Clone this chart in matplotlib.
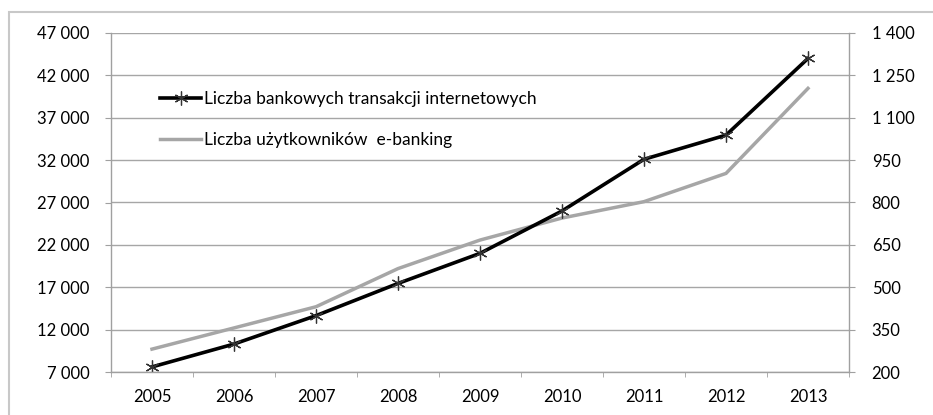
import matplotlib.pyplot as plt
from matplotlib.ticker import FixedLocator, FuncFormatter
from matplotlib.patches import Rectangle

years = ['2005', '2006', '2007', '2008', '2009', '2010', '2011', '2012', '2013']
transakcje = [7600, 10300, 13650, 17450, 21000, 26000, 32100, 34950, 44000]
uzytkownicy = [281, 356, 431, 566, 667, 745, 803, 903, 1204]

left_ticks = list(range(7000, 47001, 5000))
right_ticks = list(range(200, 1401, 150))

plt.rcParams['font.family'] = ['Lato', 'DejaVu Sans']
plt.rcParams['font.size'] = 12


def spaced(v, pos):
    return '{:,}'.format(int(v)).replace(',', ' ')


fig = plt.figure(figsize=(9.33, 4.15), dpi=100)
ax1 = fig.add_axes([111 / 933, 1 - 372 / 415, 738 / 933, 339 / 415])
ax2 = ax1.twinx()

x = list(range(len(years)))

# gray series on the right axis, drawn underneath
l2, = ax2.plot(x, uzytkownicy, color='#a6a6a6', lw=2.5, solid_joinstyle='miter',
               label='Liczba użytkowników  e-banking')
# black series on the left axis, on top
l1, = ax1.plot(x, transakcje, color='black', lw=2.6, marker=(6, 2, 0), markersize=10,
               markeredgecolor='#333333', markeredgewidth=0.9,
               label='Liczba bankowych transakcji internetowych')

ax1.set_zorder(ax2.get_zorder() + 1)
ax1.patch.set_visible(False)

ax1.set_xlim(-0.5, len(years) - 0.5)
ax1.set_ylim(7000, 47000)
ax2.set_ylim(200, 1400)

ax1.yaxis.set_major_locator(FixedLocator(left_ticks))
ax1.yaxis.set_major_formatter(FuncFormatter(spaced))
ax2.yaxis.set_major_locator(FixedLocator(right_ticks))
ax2.yaxis.set_major_formatter(FuncFormatter(spaced))

ax1.set_xticks(x)
ax1.set_xticklabels(years)
ax1.set_xticks([i - 0.5 for i in range(len(years) + 1)], minor=True)
ax1.tick_params(axis='x', which='major', length=0, pad=12)
ax1.tick_params(axis='x', which='minor', length=3.6, color='#a0a0a0', direction='out')
ax1.tick_params(axis='y', length=4.3, color='#a0a0a0', pad=11)
ax2.tick_params(axis='y', length=4.3, color='#a0a0a0', pad=12)

ax2.grid(axis='y', color='#a6a6a6', lw=1)
ax2.set_axisbelow(True)

for a in (ax1, ax2):
    a.spines['top'].set_visible(False)
    for s in ('left', 'right', 'bottom'):
        a.spines[s].set_color('#a0a0a0')
        a.spines[s].set_linewidth(1)
ax1.spines['right'].set_visible(False)
ax2.spines['left'].set_visible(False)
ax2.spines['bottom'].set_visible(False)

ax1.legend(handles=[l1, l2], loc='upper left', bbox_to_anchor=(0.066, 0.828),
           frameon=False, handlelength=2.4, handletextpad=0.15, labelspacing=1.4,
           borderpad=0, borderaxespad=0, fontsize=12.5)

fig.patches.append(Rectangle((9 / 933, -0.5), 2, 1.5 - 12 / 415, transform=fig.transFigure,
                             fill=False, edgecolor='#c8c8c8', lw=1.5))

fig.savefig('out.png', dpi=100)
